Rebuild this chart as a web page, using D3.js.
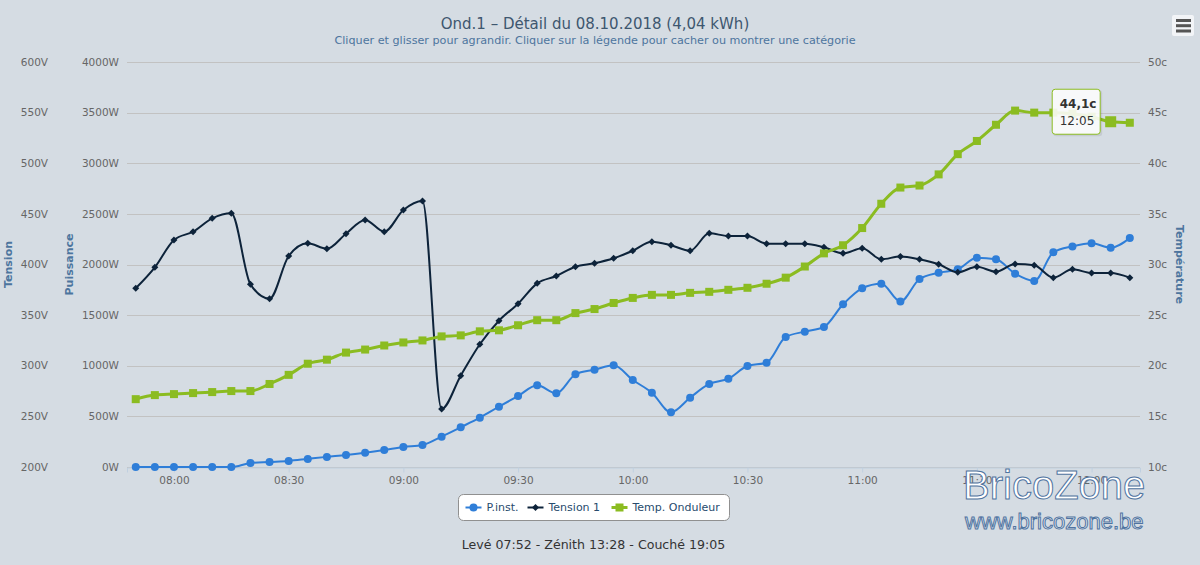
<!DOCTYPE html>
<html>
<head>
<meta charset="utf-8">
<script src="https://cdn.jsdelivr.net/npm/d3@7"></script>
<style>
  body { margin: 0; background: #d5dce3; }
</style>
</head>
<body>
<script>
const w = 1200;
const h = 565;
const bg = "#d5dce3";
const gridColor = "#c2c2c2";

// heure de chaque mesure (toutes les 5 minutes)
const times = ["07:50","07:55","08:00","08:05","08:10","08:15","08:20","08:25","08:30","08:35",
               "08:40","08:45","08:50","08:55","09:00","09:05","09:10","09:15","09:20","09:25",
               "09:30","09:35","09:40","09:45","09:50","09:55","10:00","10:05","10:10","10:15",
               "10:20","10:25","10:30","10:35","10:40","10:45","10:50","10:55","11:00","11:05",
               "11:10","11:15","11:20","11:25","11:30","11:35","11:40","11:45","11:50","11:55",
               "12:00","12:05","12:10"];

// P.inst. en W
const power = [0, 0, 0, 0, 0, 0, 40, 50, 60, 80,
               100, 118, 141, 168, 198, 217, 300, 392, 487, 596,
               701, 807, 728, 915, 961, 1004, 859, 734, 540, 685,
               820, 872, 998, 1030, 1284, 1337, 1383, 1607, 1765, 1809,
               1635, 1857, 1919, 1952, 2067, 2051, 1909, 1837, 2120, 2179,
               2209, 2166, 2262];

// Tension 1 en V
const tension = [376.5, 397.2, 424.2, 432.4, 445.6, 450.6, 380.4, 366.2, 408.4, 421,
                 415.6, 430.4, 444, 432.4, 453.8, 462.7, 257.3, 290.2, 321.2, 344.5,
                 361.3, 381.4, 388.6, 397.8, 401.2, 406.1, 413.6, 422.5, 419, 413.6,
                 430.8, 428.2, 428.2, 420.6, 420.6, 420.6, 417, 411, 416, 405.1,
                 408, 405.1, 400.2, 392.3, 397.8, 392.9, 400.5, 399.2, 387, 395.3,
                 391.6, 391.6, 387];

// Temp. Onduleur en c
const temp = [16.7, 17.1, 17.2, 17.3, 17.4, 17.5, 17.5, 18.2, 19.1, 20.2,
              20.6, 21.3, 21.6, 22.0, 22.3, 22.5, 22.9, 23.0, 23.4, 23.5,
              24.0, 24.5, 24.5, 25.2, 25.6, 26.2, 26.7, 27.0, 27.0, 27.2,
              27.3, 27.5, 27.7, 28.1, 28.7, 29.8, 31.1, 31.9, 33.6, 36.0,
              37.6, 37.8, 38.9, 40.9, 42.2, 43.8, 45.2, 45.0, 45.0, 44.9,
              44.6, 44.1, 44.0];

const powerTicks = [0, 500, 1000, 1500, 2000, 2500, 3000, 3500, 4000];
const voltTicks = [200, 250, 300, 350, 400, 450, 500, 550, 600];
const tempTicks = [10, 15, 20, 25, 30, 35, 40, 45, 50];

const seriesNames = ["P.inst.", "Tension 1", "Temp. Onduleur"];
const seriesColors = ["#2f7ed8", "#0d233a", "#8bbc21"];
const hoverIndex = 51;

const plot = { left: 127, right: 1140, top: 62, bottom: 467 };

const parseTime = d3.timeParse("%H:%M:%S");
const toDate = s => parseTime(s.length === 5 ? s + ":00" : s);

const x = d3.scaleTime()
            .domain([toDate("07:47:43"), toDate("12:12:40")])
            .range([plot.left, plot.right]);
const yPow = d3.scaleLinear().domain([0, 4000]).range([plot.bottom, plot.top]);
const yVolt = d3.scaleLinear().domain([200, 600]).range([plot.bottom, plot.top]);
const yTemp = d3.scaleLinear().domain([10, 50]).range([plot.bottom, plot.top]);

const svg = d3.select("body")
              .append("svg")
              .attr("width", w)
              .attr("height", h)
              .attr("font-family", "DejaVu Sans, Verdana, sans-serif");

svg.append("rect")
   .attr("width", w)
   .attr("height", h)
   .attr("fill", bg);

// titres
svg.append("text")
   .attr("x", 595)
   .attr("y", 29)
   .attr("text-anchor", "middle")
   .attr("fill", "#3e576f")
   .attr("font-size", "15px")
   .text("Ond.1 – Détail du 08.10.2018 (4,04 kWh)");

svg.append("text")
   .attr("x", 595)
   .attr("y", 44)
   .attr("text-anchor", "middle")
   .attr("fill", "#4d759e")
   .attr("font-size", "11.2px")
   .text("Cliquer et glisser pour agrandir. Cliquer sur la légende pour cacher ou montrer une catégorie");

// menu
const menu = svg.append("g").attr("transform", "translate(1172,15)");
menu.append("rect")
    .attr("width", 22).attr("height", 21).attr("rx", 2)
    .attr("fill", "#f2f4f7");
[5.5, 10.7, 16].forEach(yy => {
  menu.append("rect")
      .attr("x", 4).attr("y", yy - 1.5)
      .attr("width", 15).attr("height", 3)
      .attr("fill", "#555");
});

// grille
svg.append("g")
   .selectAll("line")
   .data(powerTicks)
   .enter()
   .append("line")
   .attr("x1", plot.left)
   .attr("x2", plot.right)
   .attr("y1", d => Math.round(yPow(d)) + 0.5)
   .attr("y2", d => Math.round(yPow(d)) + 0.5)
   .attr("stroke", gridColor)
   .attr("stroke-width", 1);

// axe des temps
const xAxis = svg.append("g")
   .attr("transform", "translate(0," + (plot.bottom + 0.5) + ")")
   .call(d3.axisBottom(x)
           .ticks(d3.timeMinute.every(30))
           .tickFormat(d3.timeFormat("%H:%M"))
           .tickSize(5)
           .tickPadding(4));
xAxis.attr("font-family", null);
xAxis.select(".domain").attr("stroke", "#c0d0e0");
xAxis.selectAll(".tick line").attr("stroke", "#c0d0e0");
xAxis.selectAll(".tick text")
     .attr("fill", "#666")
     .attr("font-size", "10.5px");

// étiquettes des axes verticaux
const labelStyle = sel => sel.attr("fill", "#666").attr("font-size", "10.5px").attr("dy", "0.35em");

svg.append("g").selectAll("text").data(voltTicks).enter().append("text")
   .attr("x", 48).attr("y", d => yVolt(d))
   .attr("text-anchor", "end")
   .call(labelStyle)
   .text(d => d + "V");

svg.append("g").selectAll("text").data(powerTicks).enter().append("text")
   .attr("x", 119).attr("y", d => yPow(d))
   .attr("text-anchor", "end")
   .call(labelStyle)
   .text(d => d + "W");

svg.append("g").selectAll("text").data(tempTicks).enter().append("text")
   .attr("x", 1148).attr("y", d => yTemp(d))
   .attr("text-anchor", "start")
   .call(labelStyle)
   .text(d => d + "c");

const axisTitle = function(label, xx, rot) {
  svg.append("text")
     .attr("transform", "translate(" + xx + "," + ((plot.top + plot.bottom) / 2) + ") rotate(" + rot + ")")
     .attr("text-anchor", "middle")
     .attr("dy", "0.35em")
     .attr("fill", "#4d759e")
     .attr("font-weight", "bold")
     .attr("font-size", "11px")
     .text(label);
};
axisTitle("Tension", 8, -90);
axisTitle("Puissance", 69, -90);
axisTitle("Température", 1180, 90);

// séries
const series = [
  { values: power, scale: yPow, width: 2, marker: "circle" },
  { values: tension, scale: yVolt, width: 2, marker: "diamond" },
  { values: temp, scale: yTemp, width: 3, marker: "square" }
];

const diamond = function(cx, cy, r) {
  return "M" + cx + "," + (cy - r) + "L" + (cx + r) + "," + cy +
         "L" + cx + "," + (cy + r) + "L" + (cx - r) + "," + cy + "Z";
};

series.forEach(function(s, i) {
  const pts = times.map((t, j) => ({ t: toDate(t), v: s.values[j], j: j }));
  const line = d3.line()
                 .x(d => x(d.t))
                 .y(d => s.scale(d.v))
                 .curve(d3.curveMonotoneX);
  const g = svg.append("g");
  g.append("path")
   .attr("d", line(pts))
   .attr("fill", "none")
   .attr("stroke", seriesColors[i])
   .attr("stroke-width", s.width)
   .attr("stroke-linejoin", "round");

  if (s.marker === "circle") {
    g.selectAll("circle").data(pts).enter().append("circle")
     .attr("cx", d => x(d.t)).attr("cy", d => s.scale(d.v))
     .attr("r", 4)
     .attr("fill", seriesColors[i]);
  } else if (s.marker === "diamond") {
    g.selectAll("path.m").data(pts).enter().append("path")
     .attr("class", "m")
     .attr("d", d => diamond(x(d.t), s.scale(d.v), 3.5))
     .attr("fill", seriesColors[i]);
  } else {
    g.selectAll("rect").data(pts).enter().append("rect")
     .attr("x", d => x(d.t) - (d.j === hoverIndex ? 5.5 : 4))
     .attr("y", d => s.scale(d.v) - (d.j === hoverIndex ? 5.5 : 4))
     .attr("width", d => d.j === hoverIndex ? 11 : 8)
     .attr("height", d => d.j === hoverIndex ? 11 : 8)
     .attr("fill", seriesColors[i]);
  }
});

// infobulle
const hx = x(toDate(times[hoverIndex]));
const hy = yTemp(temp[hoverIndex]);
const tip = svg.append("g").attr("transform", "translate(" + (hx - 59) + "," + (hy - 33) + ")");
tip.append("rect")
   .attr("x", 1.5).attr("y", 1.5)
   .attr("width", 49).attr("height", 46).attr("rx", 3)
   .attr("fill", "rgba(0,0,0,0.08)");
tip.append("rect")
   .attr("x", 0.5).attr("y", 0.5)
   .attr("width", 48).attr("height", 45).attr("rx", 3)
   .attr("fill", "rgba(255,255,255,0.88)")
   .attr("stroke", seriesColors[2])
   .attr("stroke-width", 1);
tip.append("text")
   .attr("x", 8).attr("y", 19)
   .attr("font-size", "12px").attr("font-weight", "bold")
   .attr("fill", "#333")
   .text(String(temp[hoverIndex]).replace(".", ",") + "c");
tip.append("text")
   .attr("x", 8).attr("y", 36)
   .attr("font-size", "12px")
   .attr("fill", "#333")
   .text(times[hoverIndex]);

// légende
const legend = svg.append("g").attr("transform", "translate(458.5,494.5)");
legend.append("rect")
      .attr("width", 271).attr("height", 26).attr("rx", 5)
      .attr("fill", "#fff")
      .attr("stroke", "#909090");
const legendX = [7, 69, 153];
seriesNames.forEach(function(name, i) {
  const g = legend.append("g").attr("transform", "translate(" + legendX[i] + ",13)");
  g.append("line")
   .attr("x1", 0).attr("x2", 16)
   .attr("stroke", seriesColors[i])
   .attr("stroke-width", i === 2 ? 3 : 2);
  if (i === 0) {
    g.append("circle").attr("cx", 8).attr("r", 4).attr("fill", seriesColors[i]);
  } else if (i === 1) {
    g.append("path").attr("d", diamond(8, 0, 3.5)).attr("fill", seriesColors[i]);
  } else {
    g.append("rect").attr("x", 4).attr("y", -4).attr("width", 8).attr("height", 8).attr("fill", seriesColors[i]);
  }
  g.append("text")
   .attr("x", 21).attr("dy", "0.35em")
   .attr("font-size", "11px")
   .attr("fill", "#274b6d")
   .text(name);
});

// éphéméride
svg.append("text")
   .attr("x", 593.5).attr("y", 549)
   .attr("text-anchor", "middle")
   .attr("font-size", "12.6px")
   .attr("fill", "#333")
   .text("Levé 07:52 - Zénith 13:28 - Couché 19:05");

// filigrane
svg.append("text")
   .attr("x", 963).attr("y", 499)
   .attr("font-family", "Liberation Sans").attr("font-size", "40px")
   .attr("fill", "#fff").attr("stroke", "#4f73a0").attr("stroke-width", 1)
   .text("BricoZone");
svg.append("text")
   .attr("x", 965).attr("y", 529)
   .attr("font-family", "Liberation Sans").attr("font-size", "22px")
   .attr("fill", "#e6ecf2").attr("stroke", "#4f73a0").attr("stroke-width", 1)
   .text("www.bricozone.be");
</script>
</body>
</html>
